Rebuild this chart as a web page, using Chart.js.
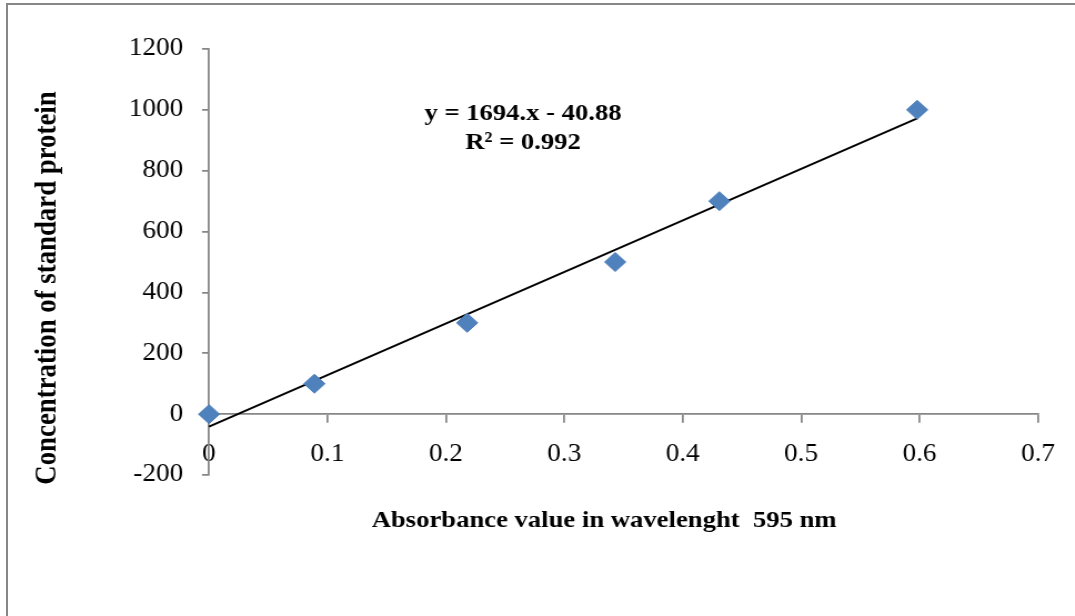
<!DOCTYPE html>
<html>
<head>
<meta charset="utf-8">
<script src="https://cdn.jsdelivr.net/npm/chart.js@4.4.0/dist/chart.umd.min.js"></script>
<style>
html,body{margin:0;padding:0;background:#fff;overflow:hidden;width:1075px;height:616px;}
#stretch{position:absolute;left:0;top:0;width:968px;height:616px;transform:scaleX(1.1105);transform-origin:0 0;}
#frame{position:absolute;left:6px;top:3px;width:2000px;height:2000px;border-left:2px solid #878787;border-top:2px solid #878787;pointer-events:none;}
canvas{display:block;}
</style>
</head>
<body>
<div id="stretch"><canvas id="c" width="968" height="616" style="width:968px;height:616px"></canvas></div>
<div id="frame"></div>
<script>
// ---- data ----
const absorbance = [0, 0.089, 0.218, 0.343, 0.431, 0.598];
const concentration = [0, 100, 300, 500, 700, 1000];
const trendX = [0, 0.598];
const trendY = [-40.88, 972.1];
const xTickValues = [0, 0.1, 0.2, 0.3, 0.4, 0.5, 0.6, 0.7];
const xTickLabels = ['0', '0.1', '0.2', '0.3', '0.4', '0.5', '0.6', '0.7'];
const yTickValues = [-200, 0, 200, 400, 600, 800, 1000, 1200];
const yTickLabels = ['-200', '0', '200', '400', '600', '800', '1000', '1200'];
const equationLines = ['y = 1694.x - 40.88', 'R\u00B2 = 0.992'];
const xTitle = 'Absorbance value in wavelenght  595 nm';
const yTitle = 'Concentration of standard protein';

Chart.defaults.font.family = '"Liberation Serif", "Times New Roman", serif';
Chart.defaults.color = '#000';

const AXIS = '#868686';

const textPlugin = {
  id: 'texts',
  afterDraw(chart) {
    const ctx = chart.ctx;
    ctx.save();
    ctx.fillStyle = '#000';
    ctx.textAlign = 'center';
    ctx.textBaseline = 'alphabetic';
    ctx.font = 'bold 24px "Liberation Serif"';
    equationLines.forEach((t, i) => ctx.fillText(t, 471, 120 + i * 29));
    ctx.fillText(xTitle, 544, 527);
    ctx.translate(49.5, 288);
    ctx.rotate(-Math.PI / 2);
    ctx.font = 'bold 26.8px "Liberation Serif"';
    ctx.fillText(yTitle, 0, 0);
    ctx.restore();
  }
};

new Chart(document.getElementById('c'), {
  type: 'scatter',
  data: {
    datasets: [
      {
        type: 'scatter',
        data: absorbance.map((x, i) => ({x, y: concentration[i]})),
        pointStyle: 'rectRot',
        pointRadius: 9.5,
        pointHoverRadius: 9.5,
        backgroundColor: '#4F81BD',
        borderColor: '#4A7DBA',
        borderWidth: 1,
        clip: false,
        order: 0
      },
      {
        type: 'line',
        data: trendX.map((x, i) => ({x, y: trendY[i]})),
        borderColor: '#000',
        borderWidth: 2,
        pointRadius: 0,
        fill: false,
        clip: false,
        order: 1
      }
    ]
  },
  options: {
    responsive: false,
    animation: false,
    devicePixelRatio: 1,
    layout: {padding: {left: 0, top: 49, right: 32.4, bottom: 141}},
    plugins: {legend: {display: false}, tooltip: {enabled: false}, title: {display: false}},
    scales: {
      x: {
        type: 'linear',
        position: {y: 0},
        min: 0,
        max: 0.7,
        afterBuildTicks: s => { s.ticks = xTickValues.map(v => ({value: v})); },
        ticks: {
          callback: (v, i) => xTickLabels[i],
          font: {size: 24.5},
          color: '#000',
          padding: 18,
          maxRotation: 0,
          autoSkip: false
        },
        grid: {drawOnChartArea: false, drawTicks: true, tickLength: 8, color: AXIS, lineWidth: 1.75},
        border: {display: true, color: AXIS, width: 1.75}
      },
      y: {
        type: 'linear',
        position: 'left',
        min: -200,
        max: 1200,
        afterBuildTicks: s => { s.ticks = yTickValues.map(v => ({value: v})); },
        afterFit: s => { s.width = 188.2; },
        ticks: {
          callback: (v, i) => yTickLabels[i],
          font: {size: 24.5},
          color: '#000',
          padding: 17,
          autoSkip: false
        },
        grid: {drawOnChartArea: false, drawTicks: true, tickLength: 6.3, color: AXIS, lineWidth: 1.75},
        border: {display: true, color: AXIS, width: 1.75}
      }
    }
  },
  plugins: [textPlugin]
});
</script>
</body>
</html>
